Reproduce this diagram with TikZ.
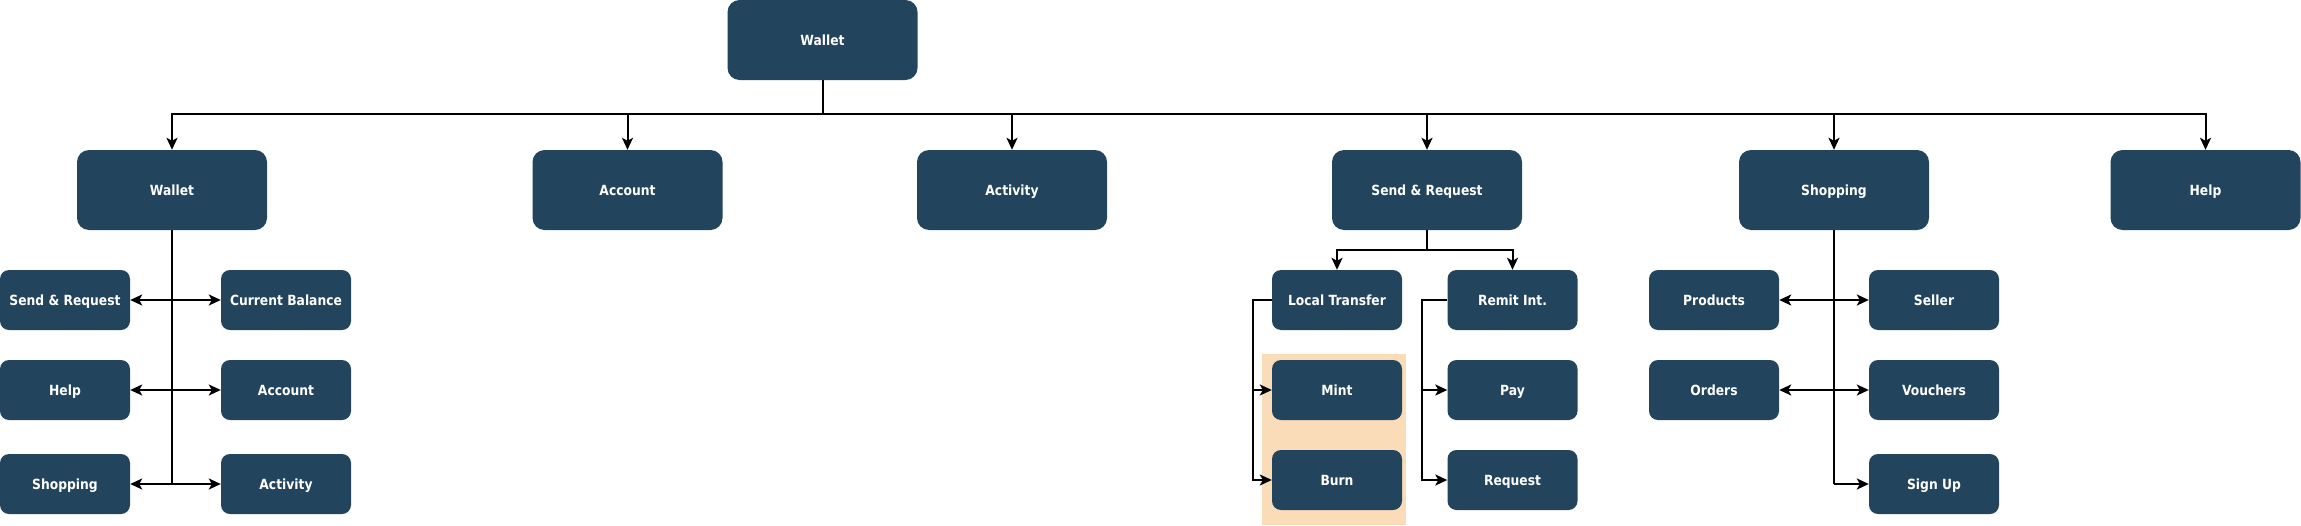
\documentclass[tikz,border=0pt]{standalone}
\usepackage{fontspec}
\newfontfamily\labfont{DejaVu Sans}[FakeStretch=0.88]
\usetikzlibrary{arrows.meta}
\definecolor{boxblue}{HTML}{23445D}
\definecolor{peach}{HTML}{FADCB9}
\tikzset{
  base/.style={fill=boxblue, text=white, font=\labfont\bfseries\fontsize{14pt}{16pt}\selectfont, inner sep=0pt, align=center, text height=10.2pt, text depth=0pt},
  bigbox/.style={base, rectangle, rounded corners=12pt, minimum width=190pt, minimum height=80pt},
  smallbox/.style={base, rectangle, rounded corners=9pt, minimum width=130pt, minimum height=60pt},
  link/.style={draw=black, line width=2pt},
  arr/.style={link, -{Stealth[length=12pt,width=11pt,inset=3pt]}},
  darr/.style={link, {Stealth[length=12pt,width=11pt,inset=3pt]}-{Stealth[length=12pt,width=11pt,inset=3pt]}}
}
\begin{document}
\begin{tikzpicture}[x=1pt,y=-1pt]
\useasboundingbox (0,0) rectangle (2301,525);
% peach background
\fill[peach] (1262,354) rectangle (1406,525);
% top level
\node[bigbox] (top) at (822.5,40) {Wallet};
\node[bigbox] (wal) at (172,190) {Wallet};
\node[bigbox] (acc) at (627.5,190) {Account};
\node[bigbox] (act) at (1012,190) {Activity};
\node[bigbox] (snd) at (1427,190) {Send \& Request};
\node[bigbox] (shp) at (1834,190) {Shopping};
\node[bigbox] (hlp) at (2205.5,190) {Help};
\coordinate (bus) at (822.5,114);
% wallet children
\node[smallbox] (wsr) at (65,300) {Send \& Request};
\node[smallbox] (wcb) at (286,300) {Current Balance};
\node[smallbox] (whl) at (65,390) {Help};
\node[smallbox] (wac) at (286,390) {Account};
\node[smallbox] (wsh) at (65,484) {Shopping};
\node[smallbox] (wat) at (286,484) {Activity};
% send & request children
\node[smallbox] (lt) at (1337,300) {Local Transfer};
\node[smallbox] (ri) at (1512.5,300) {Remit Int.};
\node[smallbox] (mint) at (1337,390) {Mint};
\node[smallbox] (burn) at (1337,480) {Burn};
\node[smallbox] (pay) at (1512.5,390) {Pay};
\node[smallbox] (req) at (1512.5,480) {Request};
% shopping children
\node[smallbox] (prd) at (1714,300) {Products};
\node[smallbox] (sel) at (1934,300) {Seller};
\node[smallbox] (ord) at (1714,390) {Orders};
\node[smallbox] (vou) at (1934,390) {Vouchers};
\node[smallbox] (sgn) at (1934,484) {Sign Up};
% top connectors
\foreach \c in {wal,acc,act,snd,shp,hlp}{
  \draw[arr] (top.south) -- (bus) -| (\c.north);
}
% wallet trunk
\draw[link] (wal.south) -- (wal.south |- wsh.east);
\draw[darr] (wsr.east) -- (wcb.west);
\draw[darr] (whl.east) -- (wac.west);
\draw[darr] (wsh.east) -- (wat.west);
% send & request
\draw[arr] (snd.south) -- ++(0,20) -| (lt.north);
\draw[arr] (snd.south) -- ++(0,20) -| (ri.north);
\draw[arr] (lt.west) -- ++(-19,0) |- (mint.west);
\draw[arr] (lt.west) -- ++(-19,0) |- (burn.west);
\draw[arr] (ri.west) -- ++(-25,0) |- (pay.west);
\draw[arr] (ri.west) -- ++(-25,0) |- (req.west);
% shopping
\draw[link] (shp.south) -- (shp.south |- sgn.west);
\draw[darr] (prd.east) -- (sel.west);
\draw[darr] (ord.east) -- (vou.west);
\draw[arr] (shp.south |- sgn.west) -- (sgn.west);
\end{tikzpicture}
\end{document}
